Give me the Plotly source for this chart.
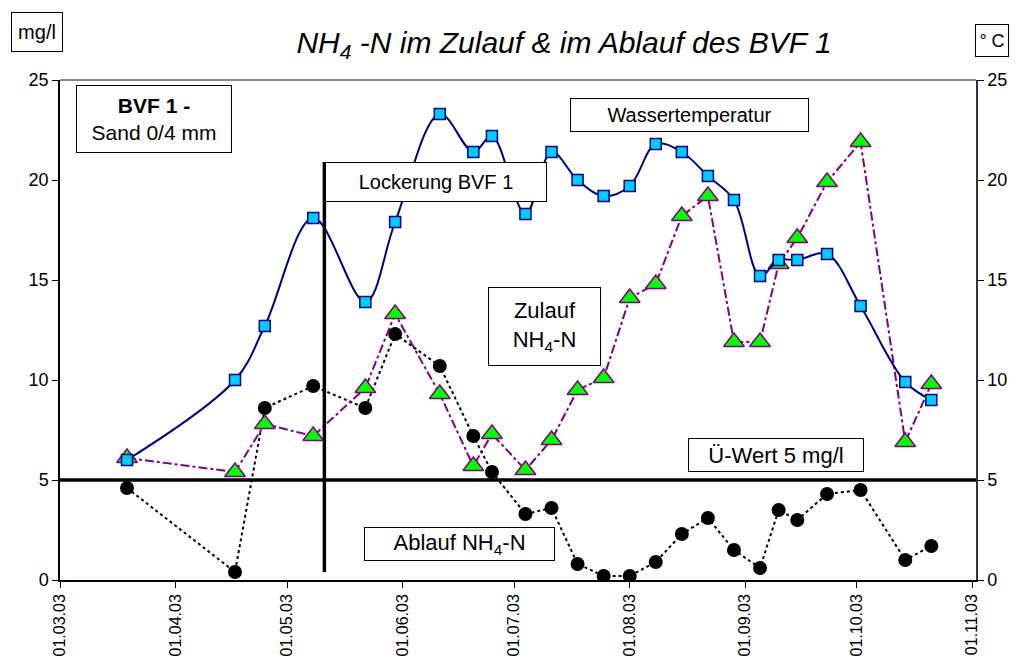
import plotly.graph_objects as go

# ---------------- data ----------------
dates = ["2003-03-19", "2003-04-17", "2003-04-25", "2003-05-08", "2003-05-22",
         "2003-05-30", "2003-06-11", "2003-06-20", "2003-06-25", "2003-07-04",
         "2003-07-11", "2003-07-18", "2003-07-25", "2003-08-01", "2003-08-08",
         "2003-08-15", "2003-08-22", "2003-08-29", "2003-09-05", "2003-09-10",
         "2003-09-15", "2003-09-23", "2003-10-02", "2003-10-14", "2003-10-21"]

wassertemperatur = [6.0, 10.0, 12.7, 18.1, 13.9, 17.9, 23.3, 21.4, 22.2, 18.3,
                    21.4, 20.0, 19.2, 19.7, 21.8, 21.4, 20.2, 19.0, 15.2, 16.0,
                    16.0, 16.3, 13.7, 9.9, 9.0]

zulauf_nh4 = [6.1, 5.4, 7.8, 7.2, 9.6, 13.3, 9.3, 5.7, 7.3, 5.5,
              7.0, 9.5, 10.1, 14.1, 14.8, 18.2, 19.2, 11.9, 11.9, 15.8,
              17.1, 19.9, 21.9, 6.9, 9.8]

ablauf_nh4 = [4.6, 0.4, 8.6, 9.7, 8.6, 12.3, 10.7, 7.2, 5.4, 3.3,
              3.6, 0.8, 0.2, 0.2, 0.9, 2.3, 3.1, 1.5, 0.6, 3.5,
              3.0, 4.3, 4.5, 1.0, 1.7]

tick_dates = ["2003-03-01", "2003-04-01", "2003-05-01", "2003-06-01", "2003-07-01",
              "2003-08-01", "2003-09-01", "2003-10-01", "2003-11-01"]
tick_labels = ["01.03.03", "01.04.03", "01.05.03", "01.06.03", "01.07.03",
               "01.08.03", "01.09.03", "01.10.03", "01.11.03"]
y_ticks = [0, 5, 10, 15, 20, 25]

ue_wert = 5                     # threshold mg/l
lockerung_date = "2003-05-11"   # loosening of the filter
lockerung_line_y = [0.4, 20.9]

FONT = "Liberation Sans, Arial, sans-serif"

fig = go.Figure()

fig.add_trace(go.Scatter(
    x=dates, y=ablauf_nh4, mode="lines+markers", name="Ablauf NH4-N",
    line=dict(color="black", width=2, dash="dot"),
    marker=dict(symbol="circle", size=14, color="black"),
))
fig.add_trace(go.Scatter(
    x=dates, y=zulauf_nh4, mode="lines+markers", name="Zulauf NH4-N",
    line=dict(color="#800080", width=2, dash="dashdot"),
    marker=dict(symbol="triangle-up", size=18, color="#00FF00",
                line=dict(color="#800080", width=1.5)),
))
fig.add_trace(go.Scatter(
    x=dates, y=wassertemperatur, mode="lines+markers", name="Wassertemperatur",
    yaxis="y2",
    line=dict(color="#000080", width=2, shape="spline", smoothing=1.0),
    marker=dict(symbol="square", size=11, color="#00CCFF",
                line=dict(color="#000080", width=1.5)),
))

# threshold line and loosening marker
fig.add_shape(type="line", xref="paper", yref="y", x0=0, x1=1, y0=ue_wert, y1=ue_wert,
              line=dict(color="black", width=3.5))
fig.add_shape(type="line", xref="x", yref="y", x0=lockerung_date, x1=lockerung_date,
              y0=lockerung_line_y[0], y1=lockerung_line_y[1], line=dict(color="black", width=3.5))
# top border of plot area
fig.add_shape(type="line", xref="paper", yref="paper", x0=0, x1=1, y0=1, y1=1,
              line=dict(color="#888888", width=2))

# ---- text boxes (placed in pixel layout space) ----
L, T, W, H = 60, 80, 916, 500


def box(text, x0, y0, x1, y1, size):
    fig.add_annotation(
        text=text, xref="paper", yref="paper",
        x=(x0 - L) / W, y=(T + H - y0) / H, xanchor="left", yanchor="top",
        width=x1 - x0 - 2, height=y1 - y0 - 2,
        showarrow=False, align="center", valign="middle",
        bgcolor="white", bordercolor="black", borderwidth=1, borderpad=0,
        font=dict(family=FONT, size=size, color="black"),
    )


box("mg/l", 11, 12, 63, 52, 20)
box("° C", 975, 24, 1009, 57, 18)
box("<b>BVF 1 -</b><br>Sand 0/4 mm", 76, 85, 232, 153, 21)
box("Lockerung BVF 1", 325, 162, 547, 202, 20)
box("Wassertemperatur", 570, 98, 809, 132, 20)
box("Zulauf<br>NH<sub>4</sub>-N", 488, 287, 601, 366, 22)
box("Ü-Wert 5 mg/l", 688, 438, 864, 472, 22)
box("Ablauf NH<sub>4</sub>-N", 364, 527, 555, 561, 22)

fig.update_layout(
    width=1016, height=666,
    margin=dict(l=L, r=1016 - L - W, t=T, b=666 - T - H, autoexpand=False),
    paper_bgcolor="white", plot_bgcolor="white",
    showlegend=False,
    font=dict(family=FONT, color="black"),
    title=dict(text="<i>NH<sub>4</sub> -N im Zulauf & im Ablauf des BVF 1</i>",
               x=564 / 1016, xref="container", xanchor="center",
               y=1 - 42 / 666, yref="container", yanchor="middle",
               font=dict(family=FONT, size=30, color="black")),
    xaxis=dict(
        type="date", range=["2003-03-01", "2003-11-02"], automargin=False,
        tickvals=tick_dates, ticktext=tick_labels, tickangle=-90,
        tickfont=dict(size=16), ticks="outside", ticklen=6, tickcolor="black",
        showline=True, linecolor="black", linewidth=1.5, showgrid=False, zeroline=False,
    ),
    yaxis=dict(
        range=[0, 25], tickvals=y_ticks, tickfont=dict(size=18), automargin=False,
        ticks="outside", ticklen=6, tickcolor="black",
        showline=True, linecolor="black", linewidth=1.5, showgrid=False, zeroline=False,
    ),
    yaxis2=dict(
        range=[0, 25], tickvals=y_ticks, tickfont=dict(size=18), automargin=False,
        overlaying="y", side="right",
        ticks="outside", ticklen=6, tickcolor="black",
        showline=True, linecolor="#333333", linewidth=1.5, showgrid=False, zeroline=False,
    ),
)

fig.write_html("out.html", config={"displayModeBar": False},
               post_script="document.body.style.margin='0';document.body.style.overflow='hidden';")
